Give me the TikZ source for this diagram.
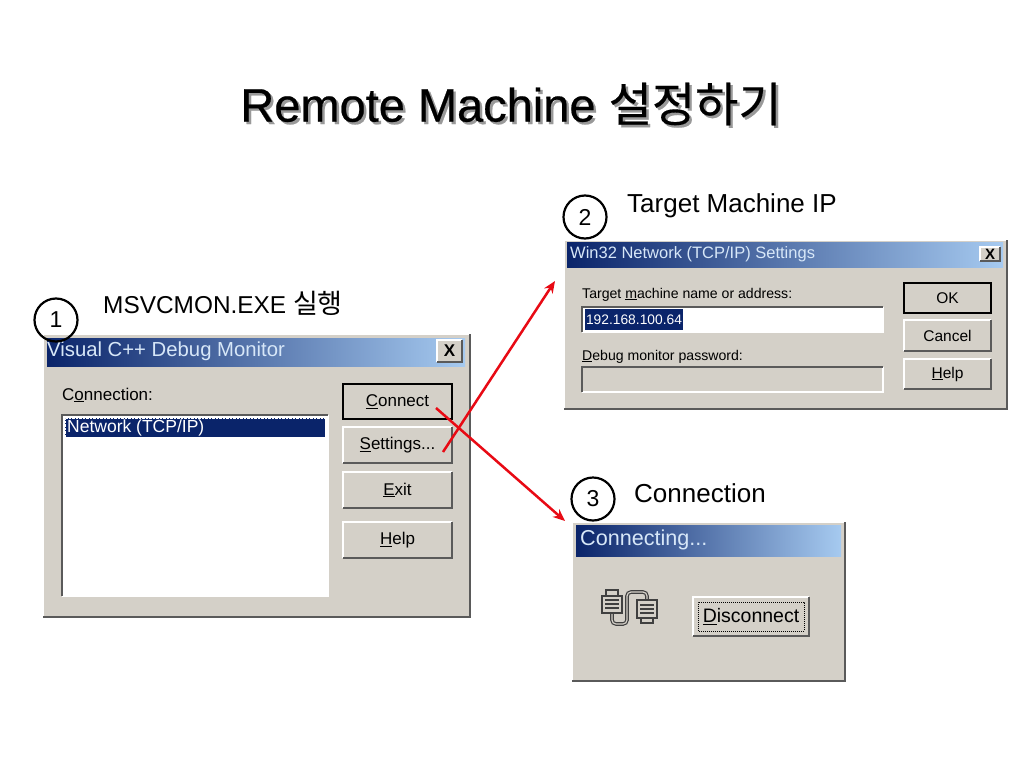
\documentclass[tikz,border=0pt]{standalone}
\usepackage{fontspec}
\setmainfont{Liberation Sans}
\newfontfamily\kofont{Noto Sans CJK KR}
\newfontfamily\headfont[FakeBold=0.5]{Liberation Sans}
\newfontfamily\headko[FakeBold=0.3]{Noto Sans CJK KR}
\usetikzlibrary{calc}
\usetikzlibrary{arrows.meta,positioning}
\definecolor{winface}{RGB}{212,208,200}
\definecolor{winshade}{RGB}{128,128,128}
\definecolor{winnavy}{RGB}{10,36,106}
\definecolor{winpale}{RGB}{166,202,240}
\definecolor{arrowred}{RGB}{232,10,20}
\newcommand{\fs}[1]{\fontsize{#1}{#1}\selectfont}
\newcommand{\raisedge}[1]{
  \draw[white,line width=1.4pt] (#1.south west) |- (#1.north east);
  \draw[winshade!70!black,line width=1.8pt] (#1.south west) -| (#1.north east);
}
\newcommand{\sunkedge}[1]{
  \draw[white,line width=1.4pt] (#1.south west) -| (#1.north east);
  \draw[winshade!70!black,line width=1.8pt] (#1.south west) |- (#1.north east);
}
\tikzset{
  sized/.style 2 args={minimum width=#1pt,minimum height=#2pt,inner sep=0pt,outer sep=0pt,anchor=north west},
  window/.style={fill=winface},
  titlebar/.style={left color=winnavy,right color=winpale,text=winpale!45!white,align=left},
  button/.style={fill=winface,font=\fs{17}},
  defbutton/.style={button,draw=black,line width=1.6pt},
  closebox/.style={fill=winface,font=\bfseries\fs{17}},
  field/.style={fill=white},
  caption/.style={font=\fs{17},inner sep=0pt,anchor=base west},
  stepnum/.style={circle,draw=black,line width=2.2pt,minimum size=43pt,inner sep=0pt,font=\fs{23}},
  steptext/.style={font=\fs{26},inner sep=0pt,anchor=base west},
  flow/.style={draw=arrowred,line width=2.5pt,-{Stealth[length=12pt,width=10pt]}},
  plug/.style={draw=black!75,line width=1.3pt,fill=winface},
}
\begin{document}
\begin{tikzpicture}[x=1pt,y=-1pt]
        \useasboundingbox[fill=white] (0,0) rectangle (1024,768);
        \node[inner sep=0pt,text=black!40,font=\fs{47}] (titleshade) at (513.5,106.5) {\headfont Remote Machine {\headko 설정하기}};
        \node[inner sep=0pt,font=\fs{47}] (title) at (511,104) {\headfont Remote Machine {\headko 설정하기}};

        \node[window,sized={427}{283}] (mon) at (43,334) {};
        \raisedge{mon}
        \node[titlebar,sized={418}{28}] (monbar) at (47,338) {};
        \node[anchor=west,inner sep=0pt,text=winpale!45!white,font=\fs{20.3}] (montitle) at (47,351) {Visual C++ Debug Monitor};
        \node[closebox,sized={25}{22}] (monclose) at (437,340) {X};
        \raisedge{monclose}
        \node[caption] (conlabel) at (62,400) {C\underline{o}nnection:};
        \node[field,sized={266}{181}] (conlist) at (62,415) {};
        \sunkedge{conlist}
        \node[sized={260}{19},fill=winnavy,draw=white,densely dotted] (conitem) at (65,418) {};
        \node[anchor=west,inner sep=0pt,text=white,font=\fs{17.5}] (conitemtext) at (67,428) {Network (TCP/IP)};
        \node[defbutton,sized={109}{35}] (btnconnect) at (343,384) {\underline{C}onnect};
        \node[button,sized={109}{36}] (btnsettings) at (343,427) {\underline{S}ettings...};
        \raisedge{btnsettings}
        \node[button,sized={109}{36}] (btnexit) at (343,472) {\underline{E}xit};
        \raisedge{btnexit}
        \node[button,sized={109}{36}] (btnhelp) at (343,522) {\underline{H}elp};
        \raisedge{btnhelp}
        \node[stepnum] (stepone) at (56,320) {1};
        \node[steptext,font=\fs{24.4}] (steponetext) at (103,313) {MSVCMON.EXE {\kofont\fs{27}실행}};

        \node[window,sized={443}{169}] (net) at (564,240) {};
        \raisedge{net}
        \node[titlebar,sized={436}{25}] (netbar) at (567,242) {};
        \node[anchor=west,inner sep=0pt,text=winpale!45!white,font=\fs{16.5}] (nettitle) at (570,254) {Win32 Network (TCP/IP) Settings};
        \node[closebox,sized={20}{14},font=\bfseries\fs{15}] (netclose) at (980,247) {X};
        \raisedge{netclose}
        \node[caption,font=\fs{14.1}] (iplabel) at (582,298) {Target \underline{m}achine name or address:};
        \node[field,sized={301}{25}] (ipfield) at (582,307) {};
        \sunkedge{ipfield}
        \node[sized={98}{21},fill=winnavy] (ipsel) at (585,309) {};
        \node[text=white,inner sep=0pt,font=\fs{13.8}] (iptext) at (ipsel) {192.168.100.64};
        \node[caption,font=\fs{14.1}] (pwlabel) at (582,360) {\underline{D}ebug monitor password:};
        \node[window,sized={301}{25}] (pwfield) at (582,367) {};
        \sunkedge{pwfield}
        \node[defbutton,sized={87}{30},font=\fs{15.5}] (btnok) at (904,283) {OK};
        \node[button,sized={87}{31},font=\fs{15.5}] (btncancel) at (904,320) {Cancel};
        \raisedge{btncancel}
        \node[button,sized={87}{30},font=\fs{15.5}] (btnnethelp) at (904,359) {\underline{H}elp};
        \raisedge{btnnethelp}
        \node[stepnum] (steptwo) at (585,217) {2};
        \node[steptext] (steptwotext) at (627,212) {Target Machine IP};

        \node[window,sized={273}{159}] (conn) at (572,522) {};
        \raisedge{conn}
        \node[titlebar,sized={265}{31}] (connbar) at (576,525) {};
        \node[anchor=west,inner sep=0pt,text=winpale!45!white,font=\fs{21.6}] (conntitle) at (580,540) {Connecting...};
        \node[button,sized={116}{39},font=\fs{19.5}] (btndisc) at (693,597) {\underline{D}isconnect};
        \raisedge{btndisc}
        \draw[black,densely dotted,line width=1pt] ($(btndisc.south west)+(5,-5)$) rectangle ($(btndisc.north east)+(-5,5)$);
        \draw[black!75,line width=3.6pt,rounded corners=4pt] (612,613) -- (612,624) -- (627,624) -- (627,592) -- (647,592) -- (647,600);
        \draw[winface,line width=1.2pt,rounded corners=4pt] (612,613) -- (612,624) -- (627,624) -- (627,592) -- (647,592) -- (647,600);
        \draw[plug] (606,590) rectangle (618,596);
        \draw[plug] (602,596) rectangle (622,613);
        \draw[plug] (641,618) rectangle (653,623);
        \draw[plug] (637,600) rectangle (657,618);
        \foreach \row in {600,604,608}
          \draw[black!75,line width=1.5pt] (605,\row) -- (619,\row);
        \foreach \row in {605,609,613}
          \draw[black!75,line width=1.5pt] (640,\row) -- (654,\row);
        \node[stepnum] (stepthree) at (593,499) {3};
        \node[steptext] (stepthreetext) at (634,502) {Connection};

        \coordinate (settingsout) at ($(btnsettings.south east)+(-9,-11)$);
        \coordinate (connectout) at ($(btnconnect.north east)+(-16,24)$);
        \coordinate (netin) at ($(net.north west)+(-9,41)$);
        \coordinate (connin) at ($(conn.north west)+(-7,-1)$);
        \draw[flow] (settingsout) -- (netin);
        \draw[flow] (connectout) -- (connin);
      \end{tikzpicture}
\end{document}
